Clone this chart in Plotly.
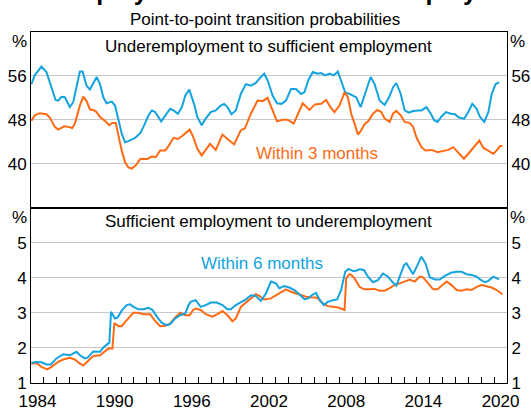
import plotly.graph_objects as go
from plotly.subplots import make_subplots

# ---------------- data (decimal years, per cent) ----------------
# Top panel: underemployment -> sufficient employment
top_6m_year = [1984.03, 1984.29, 1984.81, 1985.20, 1985.59, 1985.91, 1986.11, 1986.37, 1986.63, 1987.02,
               1987.28, 1987.80, 1988.01, 1988.32, 1988.58, 1989.10, 1989.36, 1989.62, 1989.88, 1990.28,
               1990.53, 1990.79, 1991.05, 1991.31, 1991.57, 1992.09, 1992.48, 1992.74, 1993.13, 1993.39,
               1993.65, 1994.12, 1994.48, 1994.82, 1995.08, 1995.42, 1995.73, 1995.99, 1996.30, 1996.59,
               1996.67, 1996.93, 1997.27, 1997.58, 1997.97, 1998.36, 1998.75, 1999.01, 1999.27, 1999.58,
               1999.92, 2000.31, 2000.70, 2001.09, 2001.48, 2001.87, 2002.13, 2002.39, 2002.78, 2003.12,
               2003.48, 2003.82, 2004.21, 2004.60, 2004.99, 2005.25, 2005.56, 2005.90, 2006.29, 2006.55,
               2006.86, 2007.20, 2007.54, 2007.85, 2008.16, 2008.42, 2008.76, 2009.28, 2009.62, 2009.93,
               2010.40, 2010.71, 2011.10, 2011.49, 2011.83, 2012.14, 2012.40, 2012.74, 2013.05, 2013.36,
               2013.70, 2014.09, 2014.35, 2014.74, 2015.08, 2015.34, 2015.60, 2015.91, 2016.25, 2016.64,
               2016.95, 2017.26, 2017.68, 2017.99, 2018.30, 2018.64, 2018.90, 2019.24, 2019.55, 2019.81,
               2020.12, 2020.38]
top_6m = [54.5, 56.1, 57.7, 56.7, 53.9, 51.6, 51.5, 52.2, 52.1, 50.3,
          51.2, 56.8, 56.8, 54.2, 53.5, 55.8, 54.5, 52.1, 51.0, 51.3,
          50.6, 47.9, 45.5, 43.9, 44.1, 44.7, 45.5, 46.7, 48.8, 49.7,
          49.4, 47.7, 48.9, 50.0, 49.7, 49.1, 50.3, 52.4, 53.5, 51.5,
          50.9, 48.5, 47.0, 48.2, 49.4, 49.7, 50.6, 50.9, 50.3, 49.0,
          49.7, 52.7, 54.5, 54.2, 54.7, 55.8, 56.4, 55.2, 52.4, 51.0,
          50.9, 51.5, 53.6, 53.6, 52.7, 53.0, 55.2, 56.7, 56.4, 56.5,
          56.1, 56.4, 56.1, 56.8, 54.7, 53.0, 52.7, 52.1, 50.3, 52.4,
          55.8, 54.5, 51.5, 50.7, 52.1, 53.9, 54.7, 52.7, 49.7, 49.3,
          49.6, 49.7, 49.7, 50.3, 49.1, 47.9, 47.6, 48.6, 49.4, 49.1,
          49.0, 48.4, 48.2, 49.4, 50.9, 50.0, 48.5, 47.6, 49.4, 52.7,
          54.5, 54.8]

top_3m_year = [1984.03, 1984.29, 1984.68, 1985.20, 1985.46, 1985.85, 1986.11, 1986.58, 1986.89, 1987.21,
               1987.41, 1987.80, 1988.06, 1988.32, 1988.58, 1988.92, 1989.10, 1989.36, 1989.75, 1990.09,
               1990.32, 1990.59, 1990.79, 1991.05, 1991.31, 1991.57, 1991.83, 1992.15, 1992.48, 1992.74,
               1993.00, 1993.39, 1993.71, 1994.04, 1994.43, 1994.69, 1995.08, 1995.42, 1995.73, 1995.99,
               1996.33, 1996.59, 1996.80, 1996.93, 1997.27, 1997.58, 1997.92, 1998.36, 1998.88, 1999.27,
               1999.79, 2000.31, 2000.62, 2001.09, 2001.61, 2002.00, 2002.39, 2002.78, 2003.12, 2003.56,
               2003.95, 2004.42, 2004.73, 2005.12, 2005.64, 2006.08, 2006.55, 2006.94, 2007.28, 2007.59,
               2007.98, 2008.37, 2008.63, 2008.89, 2009.15, 2009.41, 2009.67, 2009.93, 2010.24, 2010.58,
               2010.92, 2011.23, 2011.49, 2011.88, 2012.14, 2012.40, 2012.74, 2013.05, 2013.44, 2013.70,
               2013.96, 2014.35, 2014.66, 2015.13, 2015.60, 2016.04, 2016.43, 2016.82, 2017.21, 2017.65,
               2017.99, 2018.30, 2018.64, 2018.85, 2019.16, 2019.55, 2019.94, 2020.20, 2020.46, 2020.64]
top_3m = [47.8, 48.8, 49.2, 49.0, 48.4, 46.7, 46.2, 46.8, 46.7, 46.5,
          47.3, 50.6, 52.2, 51.4, 49.9, 49.7, 49.4, 48.5, 47.8, 47.0,
          47.4, 47.4, 45.2, 42.4, 40.3, 39.3, 39.1, 39.7, 40.8, 40.9,
          40.8, 41.3, 41.2, 42.4, 42.4, 43.2, 44.7, 44.5, 45.0, 45.6,
          46.2, 45.0, 43.8, 42.7, 41.5, 42.4, 43.6, 42.5, 45.3, 44.5,
          43.5, 46.1, 46.4, 49.1, 51.5, 51.4, 52.0, 49.7, 47.7, 48.0,
          48.0, 47.3, 49.1, 51.0, 49.8, 50.8, 50.9, 51.6, 50.3, 49.4,
          50.6, 53.0, 52.1, 49.1, 47.3, 45.3, 46.1, 47.2, 47.8, 49.1,
          49.8, 49.4, 48.2, 47.6, 49.1, 49.6, 48.8, 47.6, 47.4, 46.7,
          44.8, 43.0, 42.4, 42.5, 42.1, 42.3, 42.5, 43.0, 42.1, 40.9,
          41.8, 42.7, 43.6, 44.2, 42.9, 42.4, 41.8, 42.4, 43.2, 43.2]

# Bottom panel: sufficient employment -> underemployment
bot_6m_year = [1984.03, 1984.35, 1984.81, 1985.20, 1985.54, 1985.98, 1986.50, 1987.02, 1987.54, 1987.80,
               1988.19, 1988.40, 1988.84, 1989.36, 1989.62, 1990.01, 1990.09, 1990.22, 1990.53, 1990.74,
               1991.05, 1991.44, 1991.70, 1991.96, 1992.35, 1992.74, 1993.13, 1993.45, 1993.78, 1994.17,
               1994.56, 1994.82, 1995.21, 1995.60, 1995.99, 1996.25, 1996.41, 1996.80, 1997.19, 1997.58,
               1997.97, 1998.44, 1998.88, 1999.27, 1999.53, 1999.92, 2000.31, 2000.70, 2001.09, 2001.48,
               2001.87, 2002.26, 2002.65, 2003.04, 2003.30, 2003.69, 2004.08, 2004.47, 2004.86, 2005.25,
               2005.56, 2005.82, 2006.16, 2006.42, 2006.76, 2007.07, 2007.46, 2007.80, 2008.11, 2008.42,
               2008.68, 2009.02, 2009.28, 2009.54, 2009.88, 2010.19, 2010.58, 2010.97, 2011.36, 2011.75,
               2012.06, 2012.40, 2012.66, 2013.00, 2013.18, 2013.52, 2013.70, 2014.04, 2014.35, 2014.66,
               2015.00, 2015.39, 2015.78, 2016.17, 2016.64, 2017.08, 2017.47, 2017.86, 2018.25, 2018.64,
               2018.90, 2019.29, 2019.55, 2019.94, 2020.20, 2020.38]
bot_6m = [1.57, 1.60, 1.59, 1.53, 1.53, 1.70, 1.82, 1.79, 1.89, 1.79,
          1.70, 1.72, 1.90, 1.89, 2.01, 2.14, 2.15, 3.03, 2.84, 2.87,
          3.06, 3.22, 3.24, 3.17, 3.10, 3.10, 3.14, 3.08, 2.89, 2.71,
          2.65, 2.68, 2.84, 2.93, 2.98, 3.22, 3.31, 3.36, 3.17, 3.22,
          3.29, 3.29, 3.22, 3.10, 3.10, 3.22, 3.31, 3.38, 3.50, 3.48,
          3.34, 3.55, 3.89, 3.84, 3.70, 3.76, 3.72, 3.65, 3.53, 3.39,
          3.41, 3.50, 3.57, 3.38, 3.22, 3.31, 3.36, 3.38, 3.65, 4.17,
          4.25, 4.19, 4.20, 4.24, 4.22, 4.03, 3.87, 3.93, 4.12, 4.03,
          3.89, 3.77, 4.03, 4.36, 4.41, 4.22, 4.10, 4.36, 4.60, 4.41,
          4.01, 3.95, 3.95, 4.05, 4.14, 4.17, 4.17, 4.10, 4.08, 4.03,
          3.95, 3.87, 3.91, 4.03, 3.98, 3.95]

bot_3m_year = [1984.03, 1984.42, 1984.81, 1985.28, 1985.59, 1986.11, 1986.50, 1987.02, 1987.41, 1987.80,
               1988.06, 1988.45, 1988.84, 1989.36, 1989.75, 1990.01, 1990.33, 1990.48, 1990.79, 1991.05,
               1991.44, 1991.96, 1992.35, 1992.74, 1993.26, 1993.60, 1994.04, 1994.43, 1994.82, 1995.21,
               1995.60, 1995.99, 1996.33, 1996.60, 1996.80, 1997.19, 1997.58, 1998.10, 1998.49, 1998.88,
               1999.27, 1999.66, 1999.92, 2000.31, 2000.70, 2001.09, 2001.48, 2001.74, 2002.13, 2002.65,
               2003.04, 2003.43, 2003.82, 2004.21, 2004.60, 2004.99, 2005.38, 2005.77, 2006.24, 2006.68,
               2007.07, 2007.46, 2007.85, 2008.24, 2008.37, 2008.50, 2008.76, 2008.89, 2009.15, 2009.54,
               2009.88, 2010.32, 2010.71, 2011.10, 2011.49, 2011.88, 2012.22, 2012.66, 2013.05, 2013.44,
               2013.83, 2014.22, 2014.48, 2014.87, 2015.26, 2015.60, 2015.96, 2016.30, 2016.69, 2017.08,
               2017.47, 2017.86, 2018.25, 2018.64, 2019.03, 2019.42, 2019.81, 2020.20, 2020.46, 2020.64]
bot_3m = [1.55, 1.57, 1.46, 1.39, 1.46, 1.60, 1.67, 1.72, 1.67, 1.55,
          1.50, 1.65, 1.77, 1.79, 1.89, 1.98, 1.98, 2.71, 2.62, 2.62,
          2.79, 3.00, 3.00, 2.96, 2.96, 2.79, 2.62, 2.63, 2.70, 2.87,
          3.00, 2.93, 2.93, 3.08, 3.12, 3.08, 2.96, 2.89, 2.96, 3.05,
          2.93, 2.76, 2.84, 3.17, 3.29, 3.41, 3.53, 3.48, 3.38, 3.41,
          3.50, 3.60, 3.67, 3.60, 3.55, 3.50, 3.46, 3.44, 3.43, 3.27,
          3.19, 3.17, 3.15, 3.10, 3.08, 3.98, 4.10, 4.08, 3.98, 3.74,
          3.67, 3.67, 3.68, 3.63, 3.63, 3.70, 3.79, 3.84, 3.89, 3.95,
          3.89, 4.03, 4.01, 3.84, 3.67, 3.67, 3.79, 3.89, 3.79, 3.65,
          3.63, 3.67, 3.65, 3.74, 3.79, 3.76, 3.72, 3.65, 3.58, 3.53]

x_label_years = [1984, 1990, 1996, 2002, 2008, 2014, 2020]
top_ticks = [40, 48, 56]
bot_ticks = [1, 2, 3, 4, 5]

# ---------------- styling ----------------
BLUE = "#12A3E0"
ORANGE = "#FF6A13"
FONT = "Liberation Sans, Arial, sans-serif"
GRID = "#C8C8C8"

fig = make_subplots(rows=2, cols=1, shared_xaxes=True, vertical_spacing=0,
                    specs=[[{"secondary_y": True}], [{"secondary_y": True}]])

line_kw = dict(mode="lines", hoverinfo="skip", showlegend=False)
fig.add_trace(go.Scatter(x=top_6m_year, y=top_6m, line=dict(color=BLUE, width=2), **line_kw), row=1, col=1)
fig.add_trace(go.Scatter(x=top_3m_year, y=top_3m, line=dict(color=ORANGE, width=2), **line_kw), row=1, col=1)
fig.add_trace(go.Scatter(x=bot_3m_year, y=bot_3m, line=dict(color=ORANGE, width=2), **line_kw), row=2, col=1)
fig.add_trace(go.Scatter(x=bot_6m_year, y=bot_6m, line=dict(color=BLUE, width=2), **line_kw), row=2, col=1)
# carriers for right-hand axes
fig.add_trace(go.Scatter(x=[None], y=[None], **line_kw), row=1, col=1, secondary_y=True)
fig.add_trace(go.Scatter(x=[None], y=[None], **line_kw), row=2, col=1, secondary_y=True)

tickfont = dict(family=FONT, size=17, color="#000")

fig.update_xaxes(range=[1984, 2021], domain=[0, 1], showline=True, linecolor="#000", linewidth=1,
                 mirror=True, showgrid=False, zeroline=False, automargin=False)
fig.update_xaxes(showticklabels=False, ticks="", row=1, col=1)
fig.update_xaxes(tickmode="array", tickvals=[y + 0.5 for y in x_label_years],
                 ticktext=[str(y) for y in x_label_years], ticks="", tickfont=tickfont,
                 ticklabelstandoff=3,
                 minor=dict(tickmode="array", tickvals=list(range(1985, 2021)), ticks="inside",
                            ticklen=6, tickcolor="#000", tickwidth=1, showgrid=False),
                 row=2, col=1)

common_y = dict(showline=True, linecolor="#000", linewidth=1, mirror=True, zeroline=False,
                ticks="", tickfont=tickfont, automargin=False)
fig.update_yaxes(range=[32, 64], tickvals=top_ticks, showgrid=True, gridcolor=GRID, gridwidth=1,
                 row=1, col=1, secondary_y=False, **common_y)
fig.update_yaxes(range=[32, 64], tickvals=top_ticks, showgrid=False, side="right",
                 row=1, col=1, secondary_y=True, **common_y)
fig.update_yaxes(range=[1, 6], tickvals=bot_ticks, showgrid=True, gridcolor=GRID, gridwidth=1,
                 row=2, col=1, secondary_y=False, **common_y)
fig.update_yaxes(range=[1, 6], tickvals=bot_ticks, showgrid=False, side="right",
                 row=2, col=1, secondary_y=True, **common_y)

W, H = 531, 410
ML, MR, MT, MB = 31, 24, 32, 27
ph = H - MT - MB

def py(pix):
    return 1 - (pix - MT) / ph

def px(pix):
    return (pix - ML) / (W - ML - MR)

ann = []
def txt(t, x, y, size=17, color="#000", bold=False, xanchor="center"):
    ann.append(dict(text=(f"<b>{t}</b>" if bold else t), x=x, y=y, xref="paper", yref="paper",
                    xanchor=xanchor, yanchor="middle", showarrow=False,
                    font=dict(family=FONT, size=size, color=color)))

txt("Underemployment and Sufficient Employment", px(262), py(-9), size=25, bold=True)
txt("Point-to-point transition probabilities", px(265), py(19))
txt("Underemployment to sufficient employment", px(268.5), py(47))
txt("Sufficient employment to underemployment", px(268), py(221.5))
txt("Within 3 months", px(317), py(153.5), color=ORANGE)
txt("Within 6 months", px(262), py(263.5), color=BLUE)
for yy in (42, 217):
    txt("%", px(19), py(yy))
    txt("%", px(517), py(yy))

fig.update_layout(width=W, height=H, margin=dict(l=ML, r=MR, t=MT, b=MB, autoexpand=False),
                  paper_bgcolor="white", plot_bgcolor="white", annotations=ann,
                  font=dict(family=FONT, size=17, color="#000"))

fig.write_html("out.html", config={"displayModeBar": False},
               post_script="document.body.style.margin='0';")
